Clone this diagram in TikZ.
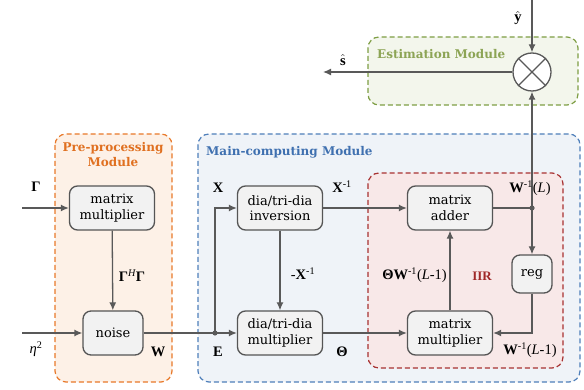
\documentclass[tikz,border=0pt]{standalone}
\usepackage{fontspec}
\setmainfont{DejaVu Serif}
\newfontfamily\lbl{Liberation Serif}
\usetikzlibrary{arrows.meta,calc}
\definecolor{boxline}{HTML}{555555}
\definecolor{boxfill}{HTML}{F2F2F2}
\definecolor{arrowc}{HTML}{595959}
\definecolor{preline}{HTML}{E8792A}
\definecolor{prefill}{HTML}{FDF1E7}
\definecolor{mainline}{HTML}{4F7FBA}
\definecolor{mainfill}{HTML}{EFF3F8}
\definecolor{iirline}{HTML}{A83232}
\definecolor{iirfill}{HTML}{F8E8E8}
\definecolor{estline}{HTML}{7E9E44}
\definecolor{estfill}{HTML}{F3F6EC}
\definecolor{pretext}{HTML}{E07020}
\definecolor{maintext}{HTML}{3F70B0}
\definecolor{esttext}{HTML}{8CA455}
\definecolor{iirtext}{HTML}{A02828}
\newcommand\ML[1]{{\lbl\fontsize{14.5}{16}\selectfont #1}}
\begin{document}
\begin{tikzpicture}[x=1pt,y=-1pt,
  box/.style={draw=boxline, fill=boxfill, rounded corners=8pt, line width=1.3pt,
    minimum width=85pt, minimum height=44pt, align=center, inner sep=2pt,
    font=\fontsize{13}{15.5}\selectfont},
  conn/.style={draw=arrowc, line width=1.3pt, -{Latex[length=8pt,width=7pt]}},
  plain/.style={draw=arrowc, line width=1.3pt},
  module/.style={line width=1.2pt, dash pattern=on 5pt off 3pt, rounded corners=11pt},
  modlab/.style={font=\fontsize{12}{15}\selectfont\bfseries},
  mlab/.style={inner sep=0pt}
]
\useasboundingbox (0,0) rectangle (584,390);
% modules
\draw[module, draw=preline, fill=prefill] (55,134) rectangle (172,382);
\draw[module, draw=mainline, fill=mainfill] (198,134) rectangle (580,382);
\draw[module, draw=iirline, fill=iirfill] (368,173) rectangle (563,368);
\draw[module, draw=estline, fill=estfill] (368,37) rectangle (578,105);
\node[modlab, text=pretext, align=center] (prelab) at (113,155) {Pre-processing\\Module};
\node[modlab, text=maintext, anchor=west, inner sep=0pt] (mainlab) at (206,152) {Main-computing Module};
\node[modlab, text=esttext, anchor=west, inner sep=0pt] (estlab) at (377,54) {Estimation Module};
\node[modlab, text=iirtext, inner sep=0pt] (iirlab) at (482,276) {\lbl\fontsize{13}{15}\selectfont IIR};
% blocks
\node[box] (pmm) at (112,208) {matrix\\multiplier};
\node[box, minimum width=60pt] (noise) at (113,333) {noise};
\node[box] (inv) at (280,208) {dia/tri-dia\\inversion};
\node[box] (mul) at (280,333) {dia/tri-dia\\multiplier};
\node[box] (add) at (450,208) {matrix\\adder};
\node[box] (imm) at (450,333) {matrix\\multiplier};
\node[box, minimum width=40pt, minimum height=38pt] (reg) at (532,274) {reg};
\node[circle, draw=arrowc, fill=white, line width=1.3pt, minimum size=38pt, inner sep=0pt] (ot) at (532,72) {};
\draw[plain] (ot.north west) -- (ot.south east) (ot.north east) -- (ot.south west);
% coordinates
\coordinate (gin) at (22,208);
\coordinate (ein) at (22,333);
\coordinate (E) at (215,333);
\coordinate (J) at (532,208);
\coordinate (yin) at (532,0);
\coordinate (sout) at (323,72);
% connectors
\draw[conn] (gin) -- (pmm.west);
\draw[conn] (ein) -- (noise.west);
\draw[conn] (pmm) -- (noise);
\draw[plain] (noise.east) -- (E);
\draw[conn] (E) -- (mul.west);
\draw[conn] (E) |- (inv.west);
\fill[arrowc] (E) circle (2.6pt);
\draw[conn] (inv) -- (mul);
\draw[conn] (inv.east) -- (add.west);
\draw[conn] (mul.east) -- (imm.west);
\draw[conn] (imm) -- (add);
\draw[plain] (add.east) -- (J);
\draw[conn] (J) -- (ot.south);
\draw[conn] (J) -- (reg.north);
\fill[arrowc] (J) circle (2.6pt);
\draw[conn] (reg.south) |- (imm.east);
\draw[conn] (yin) -- (ot.north);
\draw[conn] (ot.west) -- (sout);
% labels
\node[mlab] (lG) at (36,187) {\ML{\textbf{Γ}}};
\node[mlab] (lGG) at (132,276) {\ML{\textbf{Γ}\textsuperscript{\itshape H}\textbf{Γ}}};
\node[mlab] (leta) at (36,349) {\ML{\textit{η}\textsuperscript{2}}};
\node[mlab] (lW) at (158,352) {\ML{\textbf{W}}};
\node[mlab] (lX) at (218,188) {\ML{\textbf{X}}};
\node[mlab] (lE) at (218,352) {\ML{\textbf{E}}};
\node[mlab] (lXi) at (342,187) {\ML{\textbf{X}\textsuperscript{-1}}};
\node[mlab] (lnXi) at (303,274) {\ML{-\textbf{X}\textsuperscript{-1}}};
\node[mlab] (lT) at (342,352) {\ML{\textbf{Θ}}};
\node[mlab, anchor=east] (lTW) at (447,275) {\ML{\textbf{ΘW}\textsuperscript{-1}(\textit{L}-1)}};
\node[mlab] (lWL) at (530,188) {\ML{\textbf{W}\textsuperscript{-1}(\textit{L})}};
\node[mlab] (lWL1) at (530,350) {\ML{\textbf{W}\textsuperscript{-1}(\textit{L}-1)}};
\node[mlab] (ls) at (343,60) {\ML{$\hat{\textbf{s}}$}};
\node[mlab] (ly) at (518,18) {\ML{$\hat{\textbf{y}}$}};
\end{tikzpicture}
\end{document}
